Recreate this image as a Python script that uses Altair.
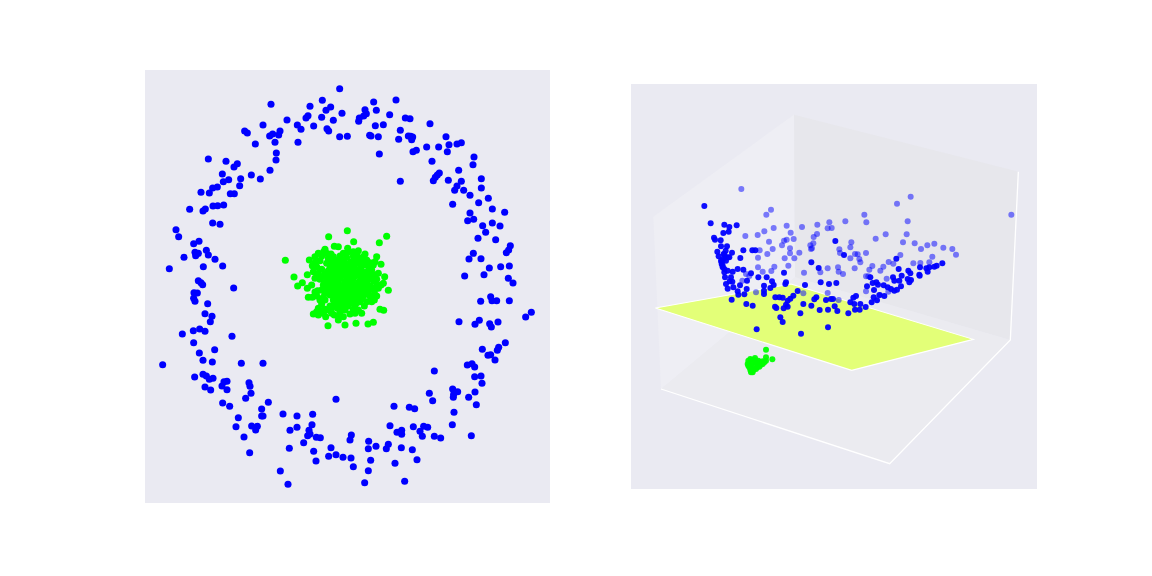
import altair as alt
import pandas as pd

BG = "#EAEAF2"

# left panel readings, one list per region read (3x units from the region origin)
ring_a = [(584,56),(378,103),(495,109),(532,91),(557,111),(543,121),(591,130),(530,142),(489,137),(483,144),(426,150),(354,165),(457,165),(468,178),(506,168),(565,151),(546,176),(551,183),(584,200),(607,199),(299,183),(307,189),(405,183),(401,195),(383,192),(374,198),(331,222),(390,217),(459,217),(394,249),(393,270),(375,301),(190,267),(243,274),(277,281),(267,291),(232,312),(319,315),(346,327),(287,326),(251,329),(235,335),(217,351),(203,354),(284,347),(168,367),(193,369),(256,371),(268,371),(134,418),(181,417),(174,423),(204,408),(218,407),(236,405)]
ring_b = [(153,90),(86,96),(94,121),(60,119),(64,131),(56,138),(43,144),(41,154),(134,134),(115,164),(91,167),(181,144),(195,146),(255,161),(166,181),(74,196),(78,198),(100,200),(161,208),(190,198),(197,199),(203,201),(200,209),(103,252),(245,231),(281,231),(303,200),(312,224),(336,222),(349,218),(307,245),(204,245),(214,241),(387,261),(384,284),(261,274),(341,301),(283,309),(277,315),(271,322),(265,332),(166,334),(310,331),(409,326),(349,334),(336,348),(329,361),(409,354),(356,361),(375,376),(430,385),(401,398),(323,403),(442,417),(375,429),(479,427)]
ring_c = [(203,39),(225,43),(93,59),(101,80),(162,94),(146,101),(184,121),(190,135),(150,127),(160,130),(152,137),(117,142),(210,148),(175,170),(233,168),(73,176),(160,212),(168,218),(173,224),(266,234),(147,248),(157,249),(146,265),(150,274),(188,281),(180,311),(201,319),(196,335),(145,362),(164,357),(180,364),(112,372),(261,379),(146,398),(209,419),(163,429)]
ring_d = [(143,32),(161,28),(188,47),(217,39),(240,48),(197,67),(174,85),(227,89),(271,107),(266,120),(259,128),(160,130),(147,147),(183,146),(208,174),(242,170),(268,168),(134,198),(192,194),(265,205),(279,219),(212,260),(216,272),(230,272),(182,274),(268,272),(334,307),(317,321),(117,335),(178,331),(165,343),(209,341),(214,351),(234,336),(256,398),(236,412),(232,421),(187,418),(212,434),(204,436),(225,450)]
ring_e = [(174,16),(202,21),(289,25),(354,25),(53,29),(149,66),(174,58),(184,63),(193,73),(204,70),(237,80),(246,79),(231,93),(246,104),(180,96),(197,105),(312,83),(315,94),(318,115),(302,130),(233,144),(254,154),(370,142),(573,133),(350,162),(350,183),(354,183),(414,177),(456,183),(503,178),(280,188),(273,215),(320,213),(337,214),(332,225),(501,209),(456,217),(435,226),(492,226),(495,237),(488,242),(514,247),(526,248),(297,246),(476,263),(314,293),(433,280),(506,289),(558,278),(551,304),(573,299),(594,307),(513,318),(406,348),(429,388)]
ring_f = [(367,30),(381,26),(389,36),(268,48),(389,65),(408,63),(411,85),(323,102),(338,110),(326,118),(325,127),(390,111),(371,127),(394,149),(253,115),(263,137),(147,154),(193,157),(209,161),(327,172),(322,209),(135,212),(205,215),(236,214),(248,217),(170,226),(156,232),(170,238),(225,229),(232,244),(268,244),(287,249),(379,242),(19,240),(15,255),(71,259),(70,281),(93,274),(130,268),(124,281),(169,278),(202,284),(216,314),(18,309),(77,316),(25,335),(150,325),(70,347),(59,383),(179,379)]
core = [(217,32),(161,50),(335,49),(313,68),(236,65),(31,121),(57,171),(68,198),(82,188),(97,164),(340,211),(329,170),(315,268),(326,271),(159,317),(210,315),(243,310),(279,312),(295,307),
(178,79),(190,80),(150,88),(146,95),(218,85),(220,95),(250,92),(270,102),(305,110),(300,125),(318,133),(130,100),(120,110),(103,120),(135,122),(112,137),(115,155),(120,175),(97,205),(110,195),(100,232),(112,232),(125,228),(135,240),(130,265),(125,275),(115,282),(130,285),(152,290),(160,270),(170,265),(190,300),(205,290),(225,282),(260,280),(250,270),(275,245),(290,245),(300,225),(318,195),(325,190),(305,178),(290,150),(295,135),
(160,115),(175,110),(195,108),(215,112),(235,108),(255,115),(275,120),(155,130),(170,128),(190,125),(210,128),(228,125),(248,130),(268,135),(282,140),(165,145),(183,142),(203,145),(222,142),(240,147),(258,150),(275,155),(130,160),(150,162),(170,160),(190,158),(210,160),(230,160),(250,165),(270,170),(288,165),(135,178),(155,180),(175,175),(195,175),(215,178),(235,175),(255,182),(275,185),(295,182),(145,195),(165,192),(185,192),(205,195),(225,192),(245,195),(265,200),(285,198),(305,195),(140,210),(160,210),(180,208),(200,210),(220,208),(240,210),(260,215),(280,215),(298,212),(165,225),(185,222),(205,225),(225,225),(245,228),(265,228),(285,228),(175,240),(195,240),(215,240),(235,242),(255,245),(180,255),(200,255),(220,258),(240,255),(150,268),(195,272),(210,270),(195,285),(178,285),
(168,102),(205,100),(245,102),(180,120),(200,118),(238,118),(262,125),(178,136),(198,135),(218,135),(238,136),(258,140),(160,152),(180,152),(198,152),(215,152),(232,152),(250,156),(268,160),(140,170),(160,170),(180,168),(200,167),(220,168),(240,168),(260,174),(280,176),(150,188),(170,186),(190,184),(210,186),(230,184),(250,188),(270,192),(155,202),(175,200),(195,202),(215,200),(235,202),(255,205),(275,207),(150,220),(172,216),(192,216),(212,216),(232,216),(252,220),(272,222),(180,232),(200,232),(220,232),(240,235),(260,236),(185,248),(205,248),(225,248),(245,248),(140,252),(150,240),(165,258),(210,262),(235,268),(188,265),(170,280),(145,280),
(125,140),(140,148),(128,212),(120,216),(145,232),(310,160),(300,165),(268,258),(295,205),(310,205),(305,228),(298,240),(120,128),(285,128),(265,110),(140,108),(155,100),(235,95),(140,272),(240,280)]

# right panel readings (3x units from the panel corner)
far = [(331,315),(839,338),(798,359),(1141,392),(420,377),(406,392),(700,392),(643,412),(706,415),(830,412),(595,415),(559,422),(590,433),(602,432),(513,429),(467,425),(428,432),(400,442),(380,453),(343,456),(479,446),(558,450),(548,459),(764,451),(827,451),(734,464),(661,475),(658,490),(547,478),(488,465),(467,467),(459,470),(453,484),(414,473),(816,475),(851,478),(889,484),(910,479),(870,495),(937,491),(964,495),(975,512),(904,518),(808,513),(705,507),(672,510),(680,511),(658,523),(685,525),(688,535),(625,496),(627,507),(477,493),(477,508),(505,506),(490,523),(461,523),(540,495),(425,495),(409,510),(386,499),(381,521),(381,550),(430,548),(472,545),(395,563),(421,561),(519,566),(568,565),(590,553),(621,550),(623,563),(636,570),(671,553),(715,557),(724,546),(748,560),(757,548),(773,534),(787,539),(847,538),(868,537),(895,535),(712,577),(705,577),(767,584),(705,622),(744,634),(772,623),(590,627),(517,628),(375,625),(623,648),(355,576),(345,570),(334,590),(543,493),(538,484)]
near = [(220,366),(239,418),(280,422),(317,424),(295,429),(293,443),(277,447),(249,461),(252,467),(269,469),(270,487),(288,487),(259,503),(303,506),(284,500),(337,499),(364,499),(373,499),(263,517),(280,510),(295,520),(328,522),(276,525),(272,535),(285,530),(275,545),(280,555),(290,560),(305,563),(320,555),(337,557),(360,568),(282,580),(300,580),(296,592),(285,600),(304,593),(290,614),(307,610),(327,604),(348,590),(320,622),(322,632),(340,631),(347,615),(382,580),(407,580),(423,592),(428,603),(418,612),(399,605),(399,620),(399,630),(459,566),(465,595),(463,600),(541,535),(563,552),(613,471),(639,513),(522,603),(569,595),(594,600),(616,597),(500,621),(433,640),(445,640),(455,641),(470,650),(487,635),(478,644),(465,662),(458,673),(470,668),(432,668),(436,672),(448,700),(455,714),(377,736),(510,749),(591,730),(508,688),(517,660),(541,665),(556,640),(550,646),(585,648),(600,645),(606,645),(566,678),(591,677),(611,667),(619,681),(652,688),(658,655),(667,641),(675,636),(670,660),(672,677),(688,660),(686,677),(704,669),(722,655),(728,640),(738,649),(746,633),(760,636),(302,647),(346,660),(365,665),(708,607),(718,580),(725,597),(736,595),(741,602),(729,618),(758,604),(770,610),(780,615),(790,620),(798,617),(810,607),(790,590),(786,580),(812,575),(805,590),(830,585),(840,588),(835,595),(832,560),(838,568),(865,572),(867,550),(866,575),(886,553),(890,563),(895,550),(910,548),(917,545),(934,538),(796,524),(803,555),(270,530),(272,540),(275,550),(280,565),(283,520),(290,520),(278,510)]
blob = [(405,797),(424,826),(352,830),(358,825),(372,822),(405,820),(350,840),(355,850),(360,865),(365,865),(375,855),(385,848),(395,840),(405,830),(365,835),(375,835),(385,835),(395,832),(360,845),(370,845),(380,845),(352,845),(358,858),(367,858),(378,850),(390,842),(400,835),(362,828),(370,828),(382,830)]

panel = [(0,0),(1218,0),(1218,1215),(0,1215)]
wall_left = [(67,398),(489,92),(492,580),(90,915)]
wall_right = [(489,92),(1162,263),(1138,768),(492,580)]
floor = [(90,915),(492,580),(1138,768),(776,1139)]
plane = [(73,672),(480,600),(1027,766),(662,859)]
edges = [[(90,915),(776,1139),(1138,768),(1162,263)]]
plane_edges = [[(480,600),(73,672),(662,859),(1027,766),(480,600)]]


def ring_frame(points, ox, oy):
    return [{"x": ox + a / 3, "y": oy + b / 3} for a, b in points]


ring = (ring_frame(ring_a, 145, 70) + ring_frame(ring_b, 345, 70) + ring_frame(ring_c, 145, 210)
        + ring_frame(ring_d, 420, 210) + ring_frame(ring_e, 145, 355) + ring_frame(ring_f, 345, 355))
sx = alt.Scale(domain=[145, 550], nice=False, zero=False)
sy = alt.Scale(domain=[503, 70], nice=False, zero=False)


def scatter(frame, color):
    return alt.Chart(pd.DataFrame(frame)).mark_circle(size=50, opacity=1, color=color).encode(
        x=alt.X("x:Q", scale=sx, axis=None), y=alt.Y("y:Q", scale=sy, axis=None))


left = alt.layer(scatter(ring, "#0000FF"), scatter(ring_frame(core, 275, 220), "#00FF00")).properties(width=405, height=433)

proj = dict(type="identity", scale=1 / 3, translate=[0, 0])


def poly(pts, fill):
    ring_pts = [list(p) for p in pts] + [list(pts[0])]
    feature = {"type": "Feature", "properties": {}, "geometry": {"type": "Polygon", "coordinates": [ring_pts]}}
    return alt.Chart(alt.Data(values=[feature])).mark_geoshape(fill=fill, strokeWidth=0).project(**proj)


def lines(paths, width):
    feature = {"type": "Feature", "properties": {}, "geometry": {"type": "MultiLineString", "coordinates": [[list(p) for p in path] for path in paths]}}
    return alt.Chart(alt.Data(values=[feature])).mark_geoshape(filled=False, stroke="white", strokeWidth=width).project(**proj)


def dots(pts, color, op):
    df = pd.DataFrame(pts, columns=["lon", "lat"])
    return alt.Chart(df).mark_circle(size=36, opacity=op, color=color).encode(longitude="lon:Q", latitude="lat:Q").project(**proj)


right = alt.layer(
    poly(panel, BG),
    poly(wall_left, "#EEEEF4"), poly(wall_right, "#E7E7EC"), poly(floor, "#EBEBF0"),
    lines(edges, 1.3), poly(plane, "#E3FF78"), lines(plane_edges, 1.1),
    dots(blob, "#00FF00", 0.95), dots(far, "#0000FF", 0.5), dots(near, "#0000FF", 0.95),
).properties(width=406, height=405)

chart = alt.hconcat(left, right, spacing=81, center=True, padding={"left": 137, "top": 62, "right": 0, "bottom": 0}).configure_view(fill=BG, stroke=None).properties(background="white")
chart.save("out.html", embed_options={"renderer": "svg", "actions": False})
